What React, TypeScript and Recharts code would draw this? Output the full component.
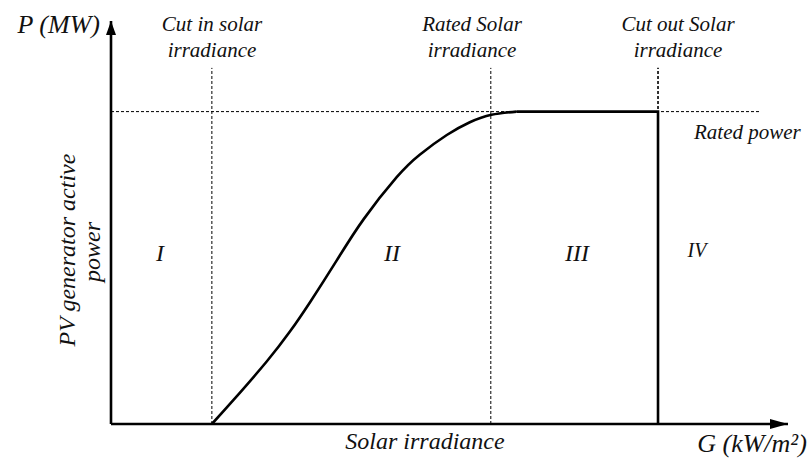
import { LineChart, Line, XAxis, YAxis, ReferenceLine, ReferenceDot } from 'recharts';

// irradiance in % of the drawn axis, power in per-unit of rated power
const curveG = [14.9, 18.1, 23.0, 26.4, 29.4, 33.3, 37.3, 42.2, 45.6, 49.6, 53.0, 56.2, 59.9];
const curveP = [0, 0.077, 0.2, 0.295, 0.39, 0.522, 0.655, 0.79, 0.862, 0.925, 0.966, 0.99, 1.0];
const plateauG = [59.9, 80.8, 80.8];
const plateauP = [1, 1, 0];

const cutIn = 14.9;
const ratedG = 56.1;
const cutOut = 80.8;
const ratedP = 1;
const guideTop = 1.14;
const ratedLineEnd = 96;
const xMax = 100;
const yMax = 1.29;

const topLabels = [
  { lines: ['Cut in solar', 'irradiance'], x: 212 },
  { lines: ['Rated Solar', 'irradiance'], x: 472 },
  { lines: ['Cut out Solar', 'irradiance'], x: 678 },
];
const regions = [
  { text: 'I', x: 160, y: 261, size: 24 },
  { text: 'II', x: 392, y: 261, size: 24 },
  { text: 'III', x: 577, y: 261, size: 24 },
  { text: 'IV', x: 697, y: 257, size: 20 },
];

const curve = curveG.map((g, i) => ({ g, p: curveP[i] }));
const plateau = plateauG.map((g, i) => ({ g, p: plateauP[i] }));

const FONT = '"Liberation Serif", serif';
const txt = { fontFamily: FONT, fontStyle: 'italic' as const, fill: '#111' };

const ArrowRight = (props: any) => {
  const { cx, cy } = props;
  return <polygon points={`${cx},${cy} ${cx - 18},${cy - 5} ${cx - 18},${cy + 5}`} fill="#000" />;
};
const ArrowUp = (props: any) => {
  const { cx, cy } = props;
  return <polygon points={`${cx},${cy} ${cx - 5},${cy + 14} ${cx + 5},${cy + 14}`} fill="#000" />;
};

function Annotations() {
  return (
    <g>
      <text x={100} y={33} textAnchor="end" fontSize={26} {...txt}>P (MW)</text>
      {topLabels.map((l) => (
        <text key={l.lines[0]} x={l.x} textAnchor="middle" fontSize={21} {...txt}>
          <tspan x={l.x} y={31}>{l.lines[0]}</tspan>
          <tspan x={l.x} y={57}>{l.lines[1]}</tspan>
        </text>
      ))}
      <text x={694} y={139} fontSize={21} {...txt}>Rated power</text>
      {regions.map((r) => (
        <text key={r.text} x={r.x} y={r.y} textAnchor="middle" fontSize={r.size} {...txt}>{r.text}</text>
      ))}
      <text x={425} y={449} textAnchor="middle" fontSize={24} {...txt}>Solar irradiance</text>
      <text x={752} y={452} textAnchor="middle" fontSize={26} {...txt}>G (kW/m²)</text>
      <text transform="translate(75,250) rotate(-90)" textAnchor="middle" fontSize={24} {...txt}>PV generator active</text>
      <text transform="translate(100,252) rotate(-90)" textAnchor="middle" fontSize={24} {...txt}>power</text>
    </g>
  );
}

export default function App() {
  return (
    <div style={{ position: 'absolute', left: 0, top: 0, background: '#fff' }}>
      <LineChart width={810} height={464} margin={{ top: 21, right: 22, bottom: 40, left: 111 }}>
        <XAxis type="number" dataKey="g" domain={[0, xMax]} hide />
        <YAxis type="number" dataKey="p" domain={[0, yMax]} hide />
        <ReferenceLine
          segment={[{ x: 0, y: ratedP }, { x: ratedLineEnd, y: ratedP }]}
          stroke="#000"
          strokeWidth={1}
          strokeDasharray="3 2"
        />
        {[cutIn, ratedG, cutOut].map((g) => (
          <ReferenceLine
            key={g}
            segment={[{ x: g, y: 0 }, { x: g, y: guideTop }]}
            stroke="#000"
            strokeWidth={g === cutOut ? 1.6 : 1}
            strokeDasharray="3 2"
          />
        ))}
        {/* axes */}
        <ReferenceLine segment={[{ x: 0, y: 0 }, { x: xMax, y: 0 }]} stroke="#000" strokeWidth={2.6} ifOverflow="visible" />
        <ReferenceLine segment={[{ x: 0, y: 0 }, { x: 0, y: yMax }]} stroke="#000" strokeWidth={2.6} ifOverflow="visible" />
        <Line
          data={curve}
          dataKey="p"
          type="natural"
          stroke="#000"
          strokeWidth={2.6}
          dot={false}
          isAnimationActive={false}
        />
        <Line
          data={plateau}
          dataKey="p"
          type="linear"
          stroke="#000"
          strokeWidth={2.6}
          dot={false}
          isAnimationActive={false}
        />
        <ReferenceDot x={xMax} y={0} ifOverflow="visible" shape={ArrowRight} />
        <ReferenceDot x={0} y={yMax} ifOverflow="visible" shape={ArrowUp} />
        <Annotations />
      </LineChart>
    </div>
  );
}
